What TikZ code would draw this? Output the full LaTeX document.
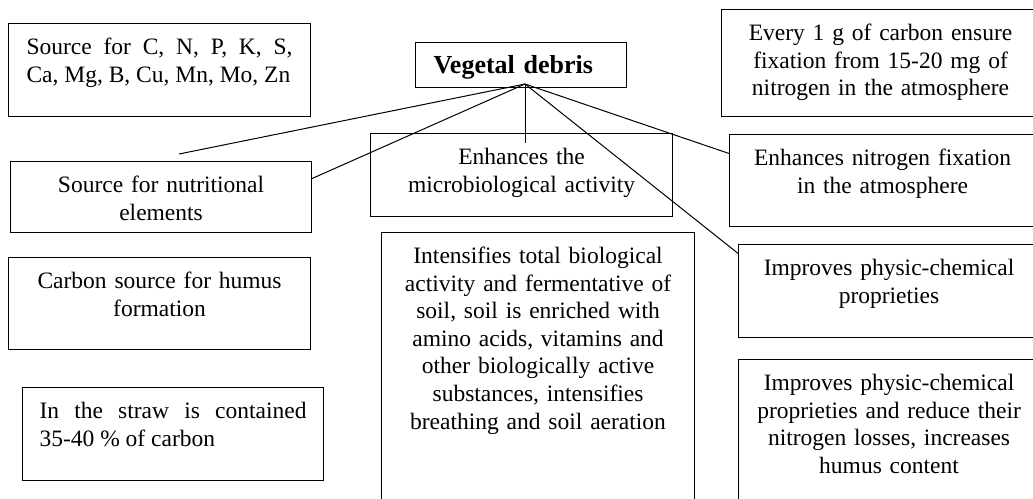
\documentclass[tikz,border=0pt]{standalone}
\usepackage{fontspec}
\setmainfont{Liberation Serif}

\begin{document}
\begin{tikzpicture}[x = 1pt, y = -1pt, font = \fontsize{23.5}{27.6}\selectfont]
	\tikzstyle{boxStyle} = [draw, line width = 1.1pt, anchor = north west, inner xsep = 0pt, inner ysep = 0pt, text height = 31pt, align = center]
	\tikzstyle{justStyle} = [boxStyle, align = justify]
	\tikzstyle{lineStyle} = [line width = 1pt]
	\clip (0,0) rectangle (1033,498);
	\node[boxStyle, font = \fontsize{26}{30}\selectfont\bfseries, minimum width = 211pt, text width = 175pt, text depth = 14pt, align = left] (debris) at (415,42) {Vegetal debris};
	\node[justStyle, minimum width = 302pt, text width = 266pt, text depth = 62pt] (elem) at (8,23) {Source for C, N, P, K, S,\linebreak Ca, Mg, B, Cu, Mn, Mo, Zn};
	\node[boxStyle, minimum width = 301pt, text width = 280pt, text depth = 40pt] (nutr) at (10,161) {Source for nutritional\\elements};
	\node[boxStyle, minimum width = 302pt, text width = 280pt, text depth = 61pt] (humus) at (8,257) {Carbon source for humus\\formation};
	\node[justStyle, minimum width = 301pt, text width = 267pt, text depth = 62pt] (straw) at (22,387) {In the straw is contained\linebreak 35-40 \% of carbon};
	\node[boxStyle, minimum width = 302pt, text width = 290pt, text depth = 52pt] (micro) at (370,133) {Enhances the\\microbiological activity};
	\node[boxStyle, minimum width = 313pt, text width = 300pt, text depth = 260pt] (intens) at (381,232) {Intensifies total biological\\activity and fermentative of\\soil, soil is enriched with\\amino acids, vitamins and\\other biologically active\\substances, intensifies\\breathing and soil aeration};
	\node[boxStyle, minimum width = 318pt, text width = 300pt, text depth = 76pt] (every) at (721,9) {Every 1 g of carbon ensure\\fixation from 15-20 mg of\\nitrogen in the atmosphere};
	\node[boxStyle, minimum width = 306pt, text width = 300pt, text depth = 61pt] (fix) at (729,134) {Enhances nitrogen fixation\\in the atmosphere};
	\node[boxStyle, minimum width = 301pt, text width = 290pt, text depth = 62pt] (phys) at (738,244) {Improves physic-chemical\\proprieties};
	\node[boxStyle, minimum width = 301pt, text width = 290pt, text depth = 150pt] (loss) at (738,359) {Improves physic-chemical\\proprieties and reduce their\\nitrogen losses, increases\\humus content};
	\coordinate (hub) at (525,84);
	\coordinate (end0) at (179,154);
	\coordinate (end1) at (525,143);
	\draw[lineStyle] (hub) -- (end0);
	\draw[lineStyle] (hub) -- (nutr.7);
	\draw[lineStyle] (hub) -- (end1);
	\draw[lineStyle] (hub) -- (fix.170);
	\draw[lineStyle] (hub) -- (phys.166);
\end{tikzpicture}
\end{document}
